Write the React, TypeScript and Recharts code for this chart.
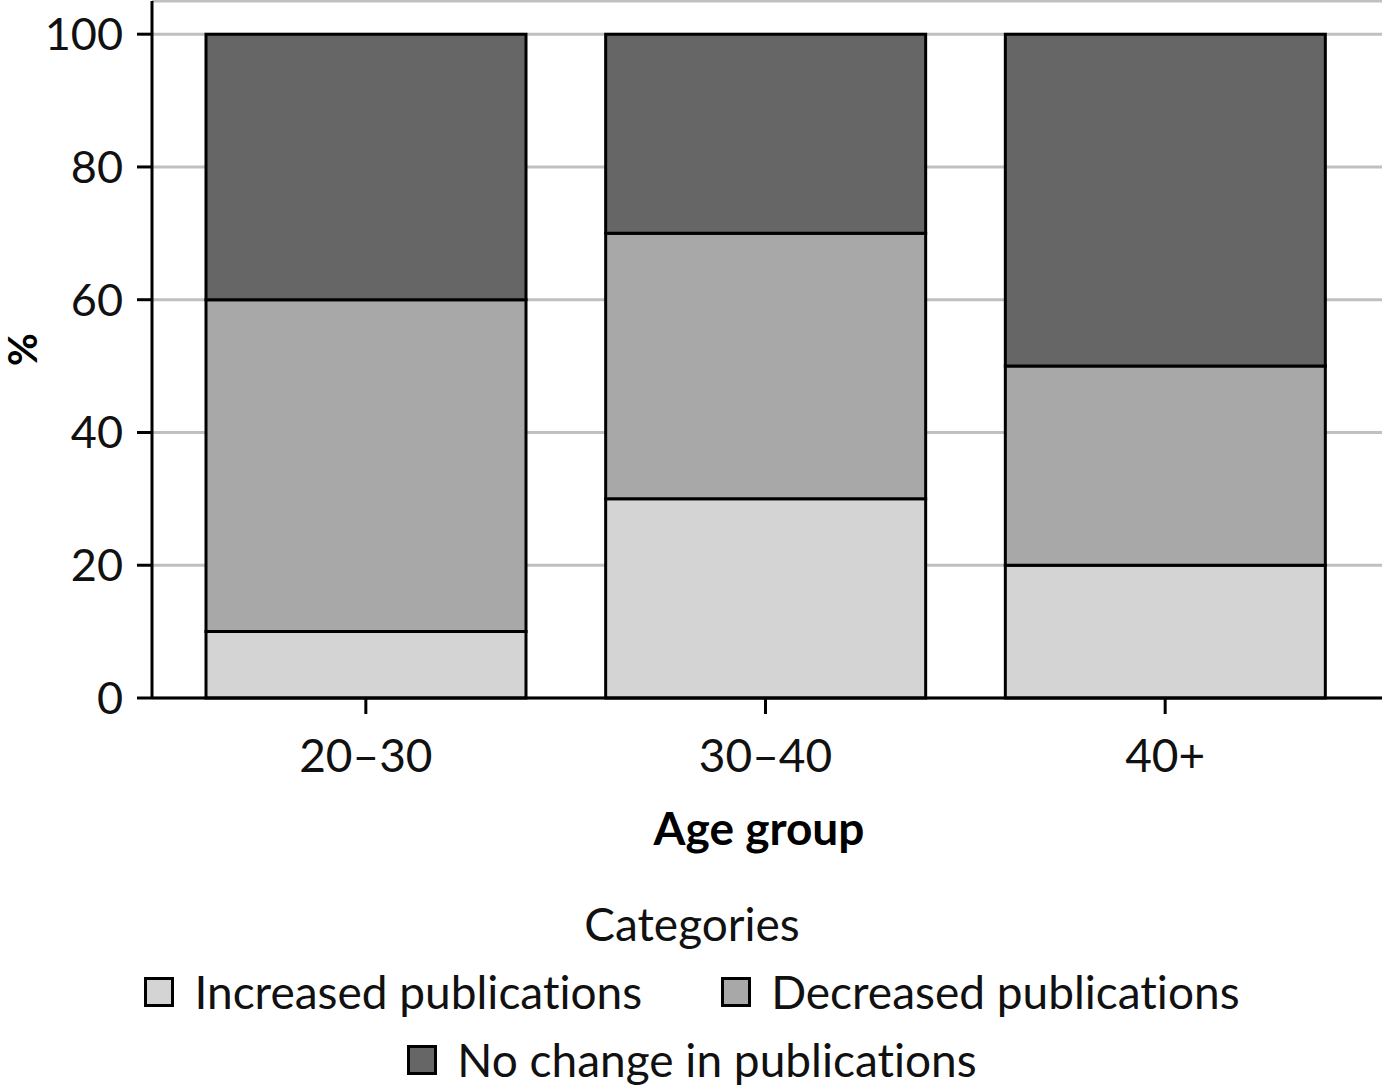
import React from 'react'
import { BarChart, Bar, XAxis, YAxis, CartesianGrid, Legend } from 'recharts'

const ageGroups = ['20–30', '30–40', '40+']
const increased = [10, 30, 20]
const decreased = [50, 40, 30]
const noChange = [40, 30, 50]
const yTicks = [0, 20, 40, 60, 80, 100]

const seriesNames = ['Increased publications', 'Decreased publications', 'No change in publications']
const seriesColors = ['#d4d4d4', '#a8a8a8', '#666666']
const legendRows = [[0, 1], [2]]

const FONT = 'Lato, "Open Sans", sans-serif'

const data = ageGroups.map((g, i) => ({ g, inc: increased[i], dec: decreased[i], none: noChange[i] }))

const YTitle = (props: any) => {
  const vb = props.viewBox
  const x = vb.x + 22
  const y = vb.y + vb.height / 2
  return (
    <text x={x} y={y} transform={`rotate(-90 ${x} ${y})`} textAnchor="middle" dominantBaseline="central"
      fontFamily={FONT} fontWeight={700} fontSize={40} fill="#000">%</text>
  )
}

const XTitle = (props: any) => {
  const vb = props.viewBox
  return (
    <text x={vb.x + vb.width / 2 - 8} y={vb.y + 147} textAnchor="middle"
      fontFamily={FONT} fontWeight={700} fontSize={46} fill="#000">Age group</text>
  )
}

const LegendBox = () => (
  <div style={{ fontFamily: FONT, fontSize: 46, color: '#111', textAlign: 'center', lineHeight: '68px', fontVariantLigatures: 'none' }}>
    <div>Categories</div>
    {legendRows.map((row, r) => (
      <div key={r} style={{ display: 'flex', justifyContent: 'center', gap: 79 }}>
        {row.map(i => (
          <div key={i} style={{ display: 'flex', alignItems: 'center' }}>
            <span style={{ display: 'inline-block', width: 24, height: 24, background: seriesColors[i], border: '3px solid #000', marginRight: 20 }} />
            <span>{seriesNames[i]}</span>
          </div>
        ))}
      </div>
    ))}
  </div>
)

export default function App() {
  return (
    <div style={{ width: 1384, height: 1092, background: '#fff' }}>
      <style>{`body{margin:0}`}</style>
      <BarChart width={1384} height={1092} data={data} margin={{ top: 1, right: 2, left: 0, bottom: 0 }} barCategoryGap={40}>
        <CartesianGrid vertical={false} stroke="#c0c0c0" strokeWidth={3} />
        <XAxis dataKey="g" height={394} padding={{ left: 14, right: 17 }}
          axisLine={{ stroke: '#000', strokeWidth: 3 }} tickLine={{ stroke: '#000', strokeWidth: 3 }} tickSize={16} tickMargin={25}
          tick={{ fontFamily: FONT, fontSize: 46, fill: '#111' }} label={<XTitle />} />
        <XAxis xAxisId="top" orientation="top" dataKey="g" height={0} tick={false} tickLine={false}
          axisLine={{ stroke: '#000', strokeWidth: 3 }} />
        <YAxis domain={[0, 105]} ticks={yTicks} width={152} interval={0}
          axisLine={{ stroke: '#000', strokeWidth: 3 }} tickLine={{ stroke: '#000', strokeWidth: 3 }} tickSize={15} tickMargin={14}
          tick={{ fontFamily: FONT, fontSize: 45, fill: '#111' }} label={<YTitle />} />
        <YAxis yAxisId="right" orientation="right" width={0} tick={false} tickLine={false}
          axisLine={{ stroke: '#000', strokeWidth: 3 }} />
        <Legend verticalAlign="middle" wrapperStyle={{ top: 890, left: 0, width: 1384 }} content={<LegendBox />} />
        <Bar dataKey="inc" stackId="a" fill={seriesColors[0]} stroke="#000" strokeWidth={3} isAnimationActive={false} />
        <Bar dataKey="dec" stackId="a" fill={seriesColors[1]} stroke="#000" strokeWidth={3} isAnimationActive={false} />
        <Bar dataKey="none" stackId="a" fill={seriesColors[2]} stroke="#000" strokeWidth={3} isAnimationActive={false} />
      </BarChart>
    </div>
  )
}
